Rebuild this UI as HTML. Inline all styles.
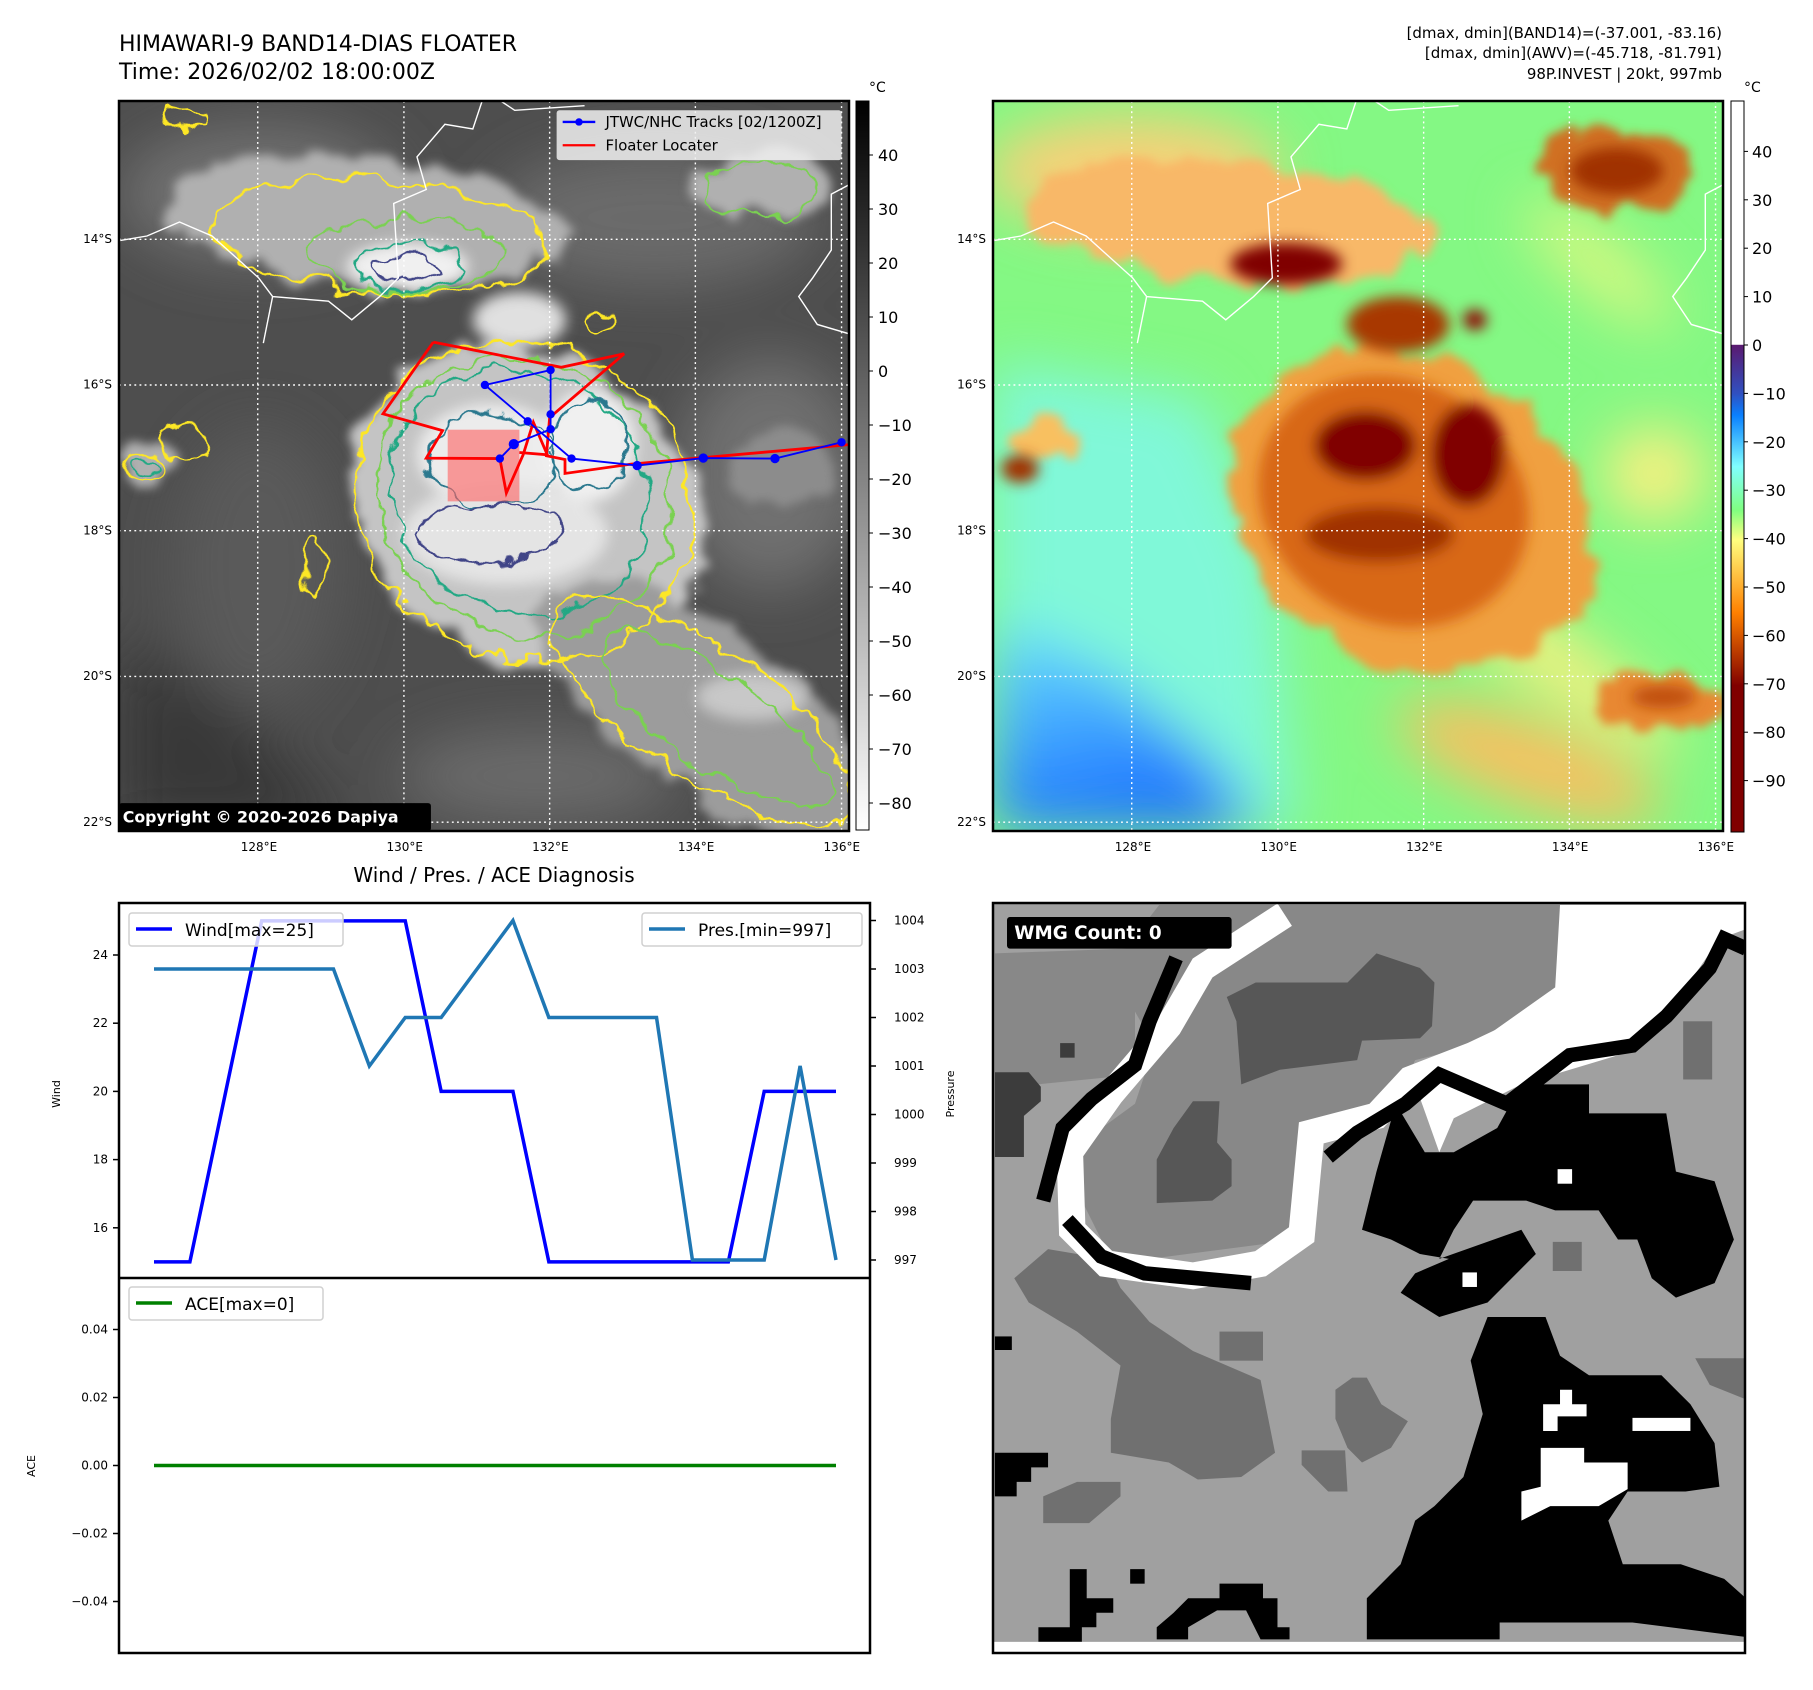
<!DOCTYPE html>
<html><head><meta charset="utf-8"><style>
html,body{margin:0;padding:0;background:#fff}
svg{display:block;font-family:"DejaVu Sans","Liberation Sans",sans-serif}
</style></head><body>
<svg id="root" width="1813" height="1690" viewBox="0 0 1813 1690" xmlns="http://www.w3.org/2000/svg">
<defs>
<filter id="b30" x="-50%" y="-50%" width="200%" height="200%"><feGaussianBlur stdDeviation="30"/></filter>
<filter id="b15" x="-50%" y="-50%" width="200%" height="200%"><feGaussianBlur stdDeviation="15"/></filter>
<filter id="b60" x="-50%" y="-50%" width="200%" height="200%"><feGaussianBlur stdDeviation="60"/></filter>
<filter id="wob" x="-20%" y="-20%" width="140%" height="140%"><feTurbulence type="fractalNoise" baseFrequency="0.015" numOctaves="3" seed="4" result="n"/><feDisplacementMap in="SourceGraphic" in2="n" scale="60" xChannelSelector="R" yChannelSelector="G"/></filter>
<filter id="wobb" x="-20%" y="-20%" width="140%" height="140%"><feTurbulence type="fractalNoise" baseFrequency="0.012" numOctaves="3" seed="7" result="n"/><feDisplacementMap in="SourceGraphic" in2="n" scale="90" xChannelSelector="R" yChannelSelector="G" result="d"/><feGaussianBlur in="d" stdDeviation="10"/></filter>
<clipPath id="mc"><rect x="0" y="0" width="1568" height="1568"/></clipPath>
<linearGradient id="cbgray" x1="0" y1="0" x2="0" y2="1"><stop offset="0" stop-color="#000"/><stop offset="1" stop-color="#fff"/></linearGradient>
<linearGradient id="cbjet" x1="0" y1="0" x2="0" y2="1">
<stop offset="0" stop-color="#fff"/><stop offset="0.333" stop-color="#fff"/>
<stop offset="0.334" stop-color="#5a1a70"/><stop offset="0.40" stop-color="#3050c0"/>
<stop offset="0.43" stop-color="#0a80ff"/><stop offset="0.50" stop-color="#80ffff"/>
<stop offset="0.56" stop-color="#80ff80"/><stop offset="0.60" stop-color="#ffff80"/>
<stop offset="0.70" stop-color="#ff8000"/><stop offset="0.80" stop-color="#800000"/>
<stop offset="1" stop-color="#800000"/></linearGradient>
<linearGradient id="bluegr" x1="0" y1="0" x2="0.3" y2="1"><stop offset="0" stop-color="#70e8ff"/><stop offset="1" stop-color="#1a70ff"/></linearGradient>
</defs>

<!-- Titles -->
<text x="119" y="51" font-size="22" fill="#000">HIMAWARI-9 BAND14-DIAS FLOATER</text>
<text x="119" y="79" font-size="22" fill="#000">Time: 2026/02/02 18:00:00Z</text>
<g font-size="15" text-anchor="end" fill="#000">
<text x="1722" y="38">[dmax, dmin](BAND14)=(-37.001, -83.16)</text>
<text x="1722" y="58">[dmax, dmin](AWV)=(-45.718, -81.791)</text>
<text x="1722" y="79">98P.INVEST | 20kt, 997mb</text>
</g>

<!-- LEFT MAP -->
<g transform="translate(119,101) scale(0.46556)">
<g clip-path="url(#mc)">
<rect x="0" y="0" width="1568" height="1568" fill="#4e4e4e"/>
<g filter="url(#b60)">
<ellipse cx="300" cy="200" rx="300" ry="150" fill="#707070"/>
<ellipse cx="1150" cy="250" rx="350" ry="150" fill="#6a6a6a"/>
<ellipse cx="1400" cy="800" rx="200" ry="250" fill="#707070"/>
<ellipse cx="300" cy="1000" rx="180" ry="300" fill="#5a5a5a"/>
<ellipse cx="900" cy="1450" rx="300" ry="100" fill="#6a6a6a"/>
<polygon points="0,1150 250,1300 500,1568 0,1568" fill="#383838"/>
</g>
<g filter="url(#wobb)">
<ellipse cx="520" cy="260" rx="430" ry="140" fill="#b0b0b0" transform="rotate(5 520 260)"/>
<ellipse cx="1380" cy="180" rx="150" ry="70" fill="#b0b0b0"/>
<ellipse cx="880" cy="870" rx="400" ry="330" fill="#c4c4c4" transform="rotate(30 880 870)"/>
<ellipse cx="1250" cy="1300" rx="420" ry="170" fill="#9c9c9c" transform="rotate(35 1250 1300)"/>
<ellipse cx="1420" cy="800" rx="110" ry="90" fill="#8c8c8c"/>
<ellipse cx="60" cy="780" rx="60" ry="50" fill="#b0b0b0"/>
</g>
<g filter="url(#b15)">
<ellipse cx="620" cy="355" rx="130" ry="50" fill="#f0f0f0"/>
<ellipse cx="860" cy="470" rx="100" ry="60" fill="#e0e0e0"/>
<ellipse cx="800" cy="760" rx="160" ry="110" fill="#ececec"/>
<ellipse cx="1010" cy="740" rx="100" ry="120" fill="#f0f0f0"/>
<ellipse cx="830" cy="930" rx="220" ry="110" fill="#e4e4e4"/>
<ellipse cx="1360" cy="1280" rx="120" ry="50" fill="#c8c8c8"/>
</g>
<g fill="none" stroke-width="5" filter="url(#wob)">
<ellipse cx="870" cy="860" rx="370" ry="335" stroke="#fde725" transform="rotate(30 870 860)"/>
<ellipse cx="870" cy="850" rx="325" ry="295" stroke="#7ad151" transform="rotate(30 870 850)"/>
<ellipse cx="860" cy="840" rx="285" ry="255" stroke="#22a884" transform="rotate(30 860 840)"/>
<ellipse cx="800" cy="770" rx="140" ry="100" stroke="#2a788e"/>
<ellipse cx="1010" cy="740" rx="80" ry="100" stroke="#2a788e"/>
<ellipse cx="800" cy="930" rx="150" ry="60" stroke="#414487"/>
<ellipse cx="560" cy="290" rx="360" ry="120" stroke="#fde725" transform="rotate(5 560 290)"/>
<ellipse cx="620" cy="330" rx="210" ry="80" stroke="#7ad151"/>
<ellipse cx="620" cy="355" rx="120" ry="50" stroke="#22a884"/>
<ellipse cx="610" cy="360" rx="70" ry="25" stroke="#414487"/>
<ellipse cx="1250" cy="1310" rx="380" ry="140" stroke="#fde725" transform="rotate(35 1250 1310)"/>
<ellipse cx="1280" cy="1330" rx="300" ry="100" stroke="#7ad151" transform="rotate(35 1280 1330)"/>
<ellipse cx="1380" cy="190" rx="120" ry="60" stroke="#7ad151"/>
<ellipse cx="55" cy="785" rx="45" ry="35" stroke="#fde725"/>
<ellipse cx="55" cy="785" rx="30" ry="22" stroke="#22a884"/>
<ellipse cx="140" cy="730" rx="45" ry="35" stroke="#fde725"/>
<ellipse cx="1035" cy="470" rx="30" ry="22" stroke="#fde725"/>
<ellipse cx="140" cy="40" rx="50" ry="20" stroke="#fde725"/>
<ellipse cx="420" cy="1000" rx="20" ry="60" stroke="#fde725"/>
</g>
<g fill="none" stroke="#fff" stroke-width="3">
<polyline points="0,300 60,290 130,260 200,290 300,380 330,420 450,430 500,470 560,420 600,380 590,220 660,190 640,120 700,50 760,60 780,0"/>
<polyline points="820,0 850,20 1000,10"/>
<polyline points="1568,180 1530,200 1530,320 1490,380 1460,420 1500,480 1568,500"/>
<polyline points="330,420 310,520"/>
</g>
<g stroke="#fff" stroke-width="3" stroke-dasharray="4,7">
<line x1="298" y1="0" x2="298" y2="1568"/><line x1="612" y1="0" x2="612" y2="1568"/><line x1="925" y1="0" x2="925" y2="1568"/><line x1="1238" y1="0" x2="1238" y2="1568"/><line x1="1552" y1="0" x2="1552" y2="1568"/>
<line y1="297" x1="0" y2="297" x2="1568"/><line y1="610" x1="0" y2="610" x2="1568"/><line y1="923" x1="0" y2="923" x2="1568"/><line y1="1236" x1="0" y2="1236" x2="1568"/><line y1="1549" x1="0" y2="1549" x2="1568"/>
</g>
<rect x="706" y="706" width="154" height="154" fill="#ff6060" opacity="0.6"/>
<polyline points="675,518 950,572 1085,543 925,680 918,762 958,770 958,800 1100,780 1568,738" fill="none" stroke="#ff0000" stroke-width="6"/>
<polyline points="675,518 567,672 695,708 660,767 818,768 832,842 868,760 890,690 920,760 860,755" fill="none" stroke="#ff0000" stroke-width="6"/>
<g stroke="#0000ff" stroke-width="4" fill="#0000ff">
<polyline fill="none" points="786,610 878,688 972,768 1113,783 1255,767 1409,768 1552,733"/>
<polyline fill="none" points="786,610 927,578 927,673 927,705 848,737 818,768"/>
<circle cx="786" cy="610" r="7"/><circle cx="927" cy="578" r="7"/><circle cx="927" cy="673" r="7"/><circle cx="927" cy="705" r="7"/><circle cx="878" cy="688" r="7"/><circle cx="848" cy="737" r="9"/><circle cx="818" cy="768" r="7"/><circle cx="972" cy="768" r="7"/><circle cx="1113" cy="783" r="8"/><circle cx="1255" cy="767" r="8"/><circle cx="1409" cy="768" r="8"/><circle cx="1552" cy="733" r="7"/>
</g>
<g>
<rect x="940" y="20" width="612" height="107" fill="#f0f0f0" opacity="0.85" rx="6"/>
<line x1="953" y1="45" x2="1023" y2="45" stroke="#0000ff" stroke-width="5"/><circle cx="988" cy="45" r="8" fill="#0000ff"/>
<text x="1045" y="56" font-size="32" fill="#000">JTWC/NHC Tracks [02/1200Z]</text>
<line x1="953" y1="95" x2="1023" y2="95" stroke="#ff0000" stroke-width="5"/>
<text x="1045" y="106" font-size="32" fill="#000">Floater Locater</text>
</g>
<rect x="0" y="1508" width="670" height="60" fill="#000" rx="6"/>
<text x="8" y="1550" font-size="34" font-weight="bold" fill="#fff">Copyright © 2020-2026 Dapiya</text>
</g>
</g>
<rect x="119" y="101" width="730" height="730" fill="none" stroke="#000" stroke-width="2.5"/>

<!-- RIGHT MAP -->
<g transform="translate(993,101) scale(0.46556)">
<g clip-path="url(#mc)">
<rect x="0" y="0" width="1568" height="1568" fill="#84f884"/>
<g filter="url(#b60)">
<polygon points="0,560 450,640 600,1000 650,1568 0,1568" fill="#80f8d8"/>
<polygon points="0,1100 250,1230 450,1400 580,1568 0,1568" fill="url(#bluegr)"/>
<ellipse cx="300" cy="150" rx="320" ry="120" fill="#f8d078"/>
<ellipse cx="1150" cy="1420" rx="300" ry="90" fill="#f8c060" transform="rotate(20 1150 1420)"/>
<ellipse cx="1420" cy="800" rx="110" ry="100" fill="#f8f080"/>
<ellipse cx="1200" cy="1200" rx="330" ry="70" fill="#f0f080" transform="rotate(35 1200 1200)"/>
<ellipse cx="1300" cy="350" rx="200" ry="60" fill="#d8f880" transform="rotate(40 1300 350)"/>
</g>
<g filter="url(#wobb)">
<ellipse cx="500" cy="260" rx="440" ry="130" fill="#f8b868" transform="rotate(5 500 260)"/>
<ellipse cx="900" cy="880" rx="410" ry="330" fill="#f0a040" transform="rotate(30 900 880)"/>
<ellipse cx="1340" cy="150" rx="160" ry="90" fill="#d07020"/>
<ellipse cx="1430" cy="1290" rx="150" ry="60" fill="#e88830"/>
<ellipse cx="110" cy="730" rx="70" ry="50" fill="#f8c060"/>
</g>
<g filter="url(#b15)">
<ellipse cx="860" cy="860" rx="300" ry="260" fill="#d86818" transform="rotate(30 860 860)"/>
<ellipse cx="870" cy="480" rx="110" ry="60" fill="#a83800"/>
<ellipse cx="630" cy="350" rx="120" ry="45" fill="#800000"/>
<ellipse cx="800" cy="740" rx="110" ry="75" fill="#800000"/>
<ellipse cx="1020" cy="760" rx="80" ry="110" fill="#800000"/>
<ellipse cx="830" cy="930" rx="160" ry="60" fill="#a03000"/>
<ellipse cx="1340" cy="150" rx="100" ry="50" fill="#a03000"/>
<ellipse cx="58" cy="790" rx="40" ry="30" fill="#a03000"/>
<ellipse cx="1035" cy="470" rx="25" ry="22" fill="#900000"/>
<ellipse cx="1440" cy="1280" rx="70" ry="25" fill="#c05010"/>
</g>
<g fill="none" stroke="#fff" stroke-width="3">
<polyline points="0,300 60,290 130,260 200,290 300,380 330,420 450,430 500,470 560,420 600,380 590,220 660,190 640,120 700,50 760,60 780,0"/>
<polyline points="820,0 850,20 1000,10"/>
<polyline points="1568,180 1530,200 1530,320 1490,380 1460,420 1500,480 1568,500"/>
<polyline points="330,420 310,520"/>
</g>
<g stroke="#fff" stroke-width="3" stroke-dasharray="4,7">
<line x1="298" y1="0" x2="298" y2="1568"/><line x1="612" y1="0" x2="612" y2="1568"/><line x1="925" y1="0" x2="925" y2="1568"/><line x1="1238" y1="0" x2="1238" y2="1568"/><line x1="1552" y1="0" x2="1552" y2="1568"/>
<line y1="297" x1="0" y2="297" x2="1568"/><line y1="610" x1="0" y2="610" x2="1568"/><line y1="923" x1="0" y2="923" x2="1568"/><line y1="1236" x1="0" y2="1236" x2="1568"/><line y1="1549" x1="0" y2="1549" x2="1568"/>
</g>
</g>
</g>
<rect x="993" y="101" width="730" height="730" fill="none" stroke="#000" stroke-width="2.5"/>

<!-- map tick labels -->
<g font-size="12" fill="#000" id="mapticks"></g>

<!-- Colorbars -->
<rect x="856" y="101" width="13" height="729" fill="url(#cbgray)" stroke="#000" stroke-width="1"/>
<rect x="1731" y="101" width="13" height="731" fill="url(#cbjet)" stroke="#000" stroke-width="1"/>
<text x="869" y="92" font-size="14">°C</text>
<text x="1744" y="92" font-size="14">°C</text>
<g id="cbticks" font-size="16" fill="#000"></g>

<!-- Diagnosis chart -->
<text x="494" y="882" font-size="20" text-anchor="middle">Wind / Pres. / ACE Diagnosis</text>
<g id="chart"></g>
<rect x="119" y="903" width="751" height="750" fill="none" stroke="#000" stroke-width="2.5"/>
<line x1="119" y1="1278" x2="870" y2="1278" stroke="#000" stroke-width="2.5"/>

<!-- WMG panel -->
<g>
<svg x="993" y="903" width="752" height="750" viewBox="6 6 1557 1547" preserveAspectRatio="none">
<rect x="0" y="0" width="1568" height="1568" fill="#a0a0a0"/>
<polygon fill="#888" points="10,110 280,100 350,10 1200,10 1195,220 1000,300 880,330 840,420 650,480 640,700 330,740 240,720 190,620 190,500 300,420 340,300 300,230 10,230"/>
<polygon fill="#888" points="10,170 300,170 300,360 100,380 10,380"/>
<polygon fill="#575757" points="490,200 550,170 740,170 800,110 890,140 920,170 915,260 890,285 770,290 760,330 600,350 520,380 510,250"/>
<polygon fill="#575757" points="345,535 380,470 420,415 475,415 470,500 500,535 500,590 460,620 345,625"/>
<polygon fill="#3c3c3c" points="10,355 80,355 105,385 105,415 70,445 70,530 10,530"/>
<rect x="145" y="295" width="30" height="30" fill="#3c3c3c"/>
<polygon fill="#707070" points="50,780 120,720 240,740 270,800 330,870 420,930 560,990 590,1140 520,1190 430,1195 370,1160 250,1140 250,1070 270,960 180,890 80,830"/>
<polygon fill="#707070" points="110,1230 180,1200 270,1200 270,1230 205,1285 110,1285"/>
<polygon fill="#707070" points="715,1010 750,985 780,985 810,1040 865,1075 830,1130 770,1160 740,1130 715,1070"/>
<polygon fill="#707070" points="645,1135 735,1135 740,1220 700,1220 645,1165"/>
<polygon fill="#707070" points="1460,945 1565,945 1565,1030 1490,1000"/>
<rect x="1165" y="705" width="60" height="60" fill="#707070"/>
<rect x="475" y="890" width="90" height="60" fill="#707070"/>
<rect x="1435" y="250" width="60" height="120" fill="#707070"/>
<polyline fill="none" stroke="#fff" stroke-width="55" points="610,30 440,140 370,260 250,400 165,520 170,680 240,750 420,775 560,750 645,690 665,480 800,445 870,370 1000,320 1180,235 1290,190 1520,50"/>
<polygon fill="#fff" points="1180,10 1565,10 1565,60 1510,80 1420,210 1300,320 1100,380 960,450 930,520 880,380 1000,300 1170,180"/>
<polyline fill="none" stroke="#000" stroke-width="30" points="385,120 330,250 300,340 210,410 150,470 110,620"/>
<polyline fill="none" stroke="#000" stroke-width="30" points="160,660 230,735 320,770 540,790"/>
<polyline fill="none" stroke="#000" stroke-width="30" points="700,530 760,480 860,420 930,360 1070,420 1200,320 1330,300 1400,240 1490,140 1520,80 1565,100"/>
<polygon fill="#000" points="800,560 840,420 900,520 960,520 1050,470 1100,380 1240,380 1240,440 1400,440 1420,560 1500,580 1540,700 1500,790 1420,820 1370,780 1340,700 1300,700 1260,640 1170,640 1110,620 1000,620 960,680 930,740 1100,680 1130,730 1030,830 930,860 850,810 880,770 950,740 890,730 830,700 770,680"/>
<polygon fill="#000" points="1030,860 1150,860 1180,940 1240,980 1390,980 1450,1040 1500,1120 1510,1210 1440,1220 1320,1220 1280,1280 1310,1370 1430,1370 1520,1400 1565,1440 1565,1520 1330,1490 1055,1490 1055,1525 780,1525 780,1440 820,1400 850,1370 880,1280 920,1250 980,1190 1020,1060 995,950"/>
<polygon fill="#fff" points="1140,1130 1230,1130 1230,1160 1320,1160 1320,1215 1260,1250 1160,1250 1100,1280 1100,1220 1140,1210"/>
<rect x="1330" y="1068" width="120" height="27" fill="#fff"/>
<polygon fill="#fff" points="1145,1040 1180,1040 1180,1010 1205,1010 1205,1040 1235,1040 1235,1065 1175,1065 1175,1095 1145,1095"/>
<rect x="1175" y="555" width="30" height="30" fill="#fff"/>
<rect x="978" y="768" width="30" height="30" fill="#fff"/>
<polygon fill="#000" points="10,1140 120,1140 120,1170 85,1170 85,1200 55,1200 55,1230 10,1230"/>
<polygon fill="#000" points="165,1380 200,1380 200,1440 255,1440 255,1470 220,1470 220,1500 190,1500 190,1530 100,1530 100,1500 165,1500"/>
<polygon fill="#000" points="345,1500 380,1470 410,1440 475,1440 475,1410 565,1410 565,1440 595,1440 595,1500 620,1500 620,1525 560,1525 530,1465 470,1465 410,1500 410,1525 345,1525"/>
<rect x="290" y="1380" width="30" height="30" fill="#000"/>
<rect x="10" y="900" width="35" height="28" fill="#000"/>
<rect x="0" y="1530" width="1568" height="40" fill="#fff"/>
<rect x="35" y="35" width="465" height="65" rx="6" fill="#000"/>
<text x="50" y="80" font-size="38" font-weight="bold" fill="#fff">WMG Count: 0</text>
</svg>
<rect x="993" y="903" width="752" height="750" fill="none" stroke="#000" stroke-width="2.5"/>
</g>
</svg>
<script>
// ---- chart data ----
const timeIndex = [0,1,2,3,4,5,6,7,8,9,10,11,12,13,14,15,16,17,18,19];
const windValues = [15,15,20,25,25,25,25,25,20,20,20,15,15,15,15,15,15,20,20,20];
const presValues = [1003,1003,1003,1003,1003,1003,1001,1002,1002,1003,1004,1002,1002,1002,1002,997,997,997,1001,997];
const aceValues = [0,0,0,0,0,0,0,0,0,0,0,0,0,0,0,0,0,0,0,0];
const windTicks = [16,18,20,22,24];
const presTicks = [997,998,999,1000,1001,1002,1003,1004];
const aceTicks = [-0.04,-0.02,0.00,0.02,0.04];
const cbGrayTicks = [40,30,20,10,0,-10,-20,-30,-40,-50,-60,-70,-80];
const cbJetTicks = [40,30,20,10,0,-10,-20,-30,-40,-50,-60,-70,-80,-90];
const lonTicks = [128,130,132,134,136];
const latTicks = [14,16,18,20,22];

const NS = 'http://www.w3.org/2000/svg';
function mk(tag, attrs, parent){const e=document.createElementNS(NS,tag);for(const k in attrs)e.setAttribute(k,attrs[k]);parent.appendChild(e);return e;}
const xS = i => 154 + (836-154) * (i - timeIndex[0]) / (timeIndex[timeIndex.length-1]-timeIndex[0]);
const yWind = v => 955 + (24 - v) * 34.1;
const yPres = v => 1260 - (v - 997) * 48.5;
const yAce = v => 1465.5 - v * 3400;
const chart = document.getElementById('chart');

function fmtNeg(s){return s.replace('-', '\u2212');}
windTicks.forEach(t=>{
  const y=yWind(t);
  mk('line',{x1:113,y1:y,x2:119,y2:y,stroke:'#000','stroke-width':1.5},chart);
  const tx=mk('text',{x:108,y:y+4,'font-size':12,'text-anchor':'end'},chart);tx.textContent=t;
  
  
});
presTicks.forEach(t=>{
  const y=yPres(t);
  mk('line',{x1:870,y1:y,x2:876,y2:y,stroke:'#000','stroke-width':1.5},chart);
  const tx=mk('text',{x:894,y:y+4,'font-size':12},chart);tx.textContent=t;
  
  
});
aceTicks.forEach(t=>{
  const y=yAce(t);
  mk('line',{x1:113,y1:y,x2:119,y2:y,stroke:'#000','stroke-width':1.5},chart);
  const tx=mk('text',{x:108,y:y+4,'font-size':12,'text-anchor':'end'},chart);tx.textContent=fmtNeg(t.toFixed(2));
  
  
});
let l=mk('text',{x:0,y:0,'font-size':11,transform:'translate(60,1094) rotate(-90)','text-anchor':'middle'},chart);l.textContent='Wind';


l=mk('text',{x:0,y:0,'font-size':11,transform:'translate(954,1094) rotate(-90)','text-anchor':'middle'},chart);l.textContent='Pressure';


l=mk('text',{x:0,y:0,'font-size':11,transform:'translate(35,1466) rotate(-90)','text-anchor':'middle'},chart);l.textContent='ACE';



let p=mk('polyline',{points:windValues.map((v,i)=>xS(timeIndex[i])+','+yWind(v)).join(' '),fill:'none',stroke:'#0000ff','stroke-width':3.5},chart);


p=mk('polyline',{points:presValues.map((v,i)=>xS(timeIndex[i])+','+yPres(v)).join(' '),fill:'none',stroke:'#1f77b4','stroke-width':3.5},chart);


p=mk('polyline',{points:aceValues.map((v,i)=>xS(timeIndex[i])+','+yAce(v)).join(' '),fill:'none',stroke:'#008000','stroke-width':3.5},chart);



function legend(x,y,w,color,label,name){
  const g=mk('g',{},chart);
  
  
  mk('rect',{x:x,y:y,width:w,height:33,rx:3,fill:'#fff','fill-opacity':0.8,stroke:'#d0d0d0','stroke-width':1.5},g);
  mk('line',{x1:x+7,y1:y+16,x2:x+43,y2:y+16,stroke:color,'stroke-width':3.5},g);
  const t=mk('text',{x:x+56,y:y+23,'font-size':17},g);t.textContent=label;
}
legend(129,913,214,'#0000ff','Wind[max=25]','wind-legend');
legend(642,913,220,'#1f77b4','Pres.[min=997]','pressure-legend');
legend(129,1287,194,'#008000','ACE[max=0]','ace-legend');

const mt=document.getElementById('mapticks');
[119,993].forEach((ox,mi)=>{
  lonTicks.forEach((lon,i)=>{
    const t=mk('text',{x:ox+140+i*145.7,y:851,'font-size':12,'text-anchor':'middle'},mt);t.textContent=lon+'°E';
    
    
  });
  latTicks.forEach((lat,i)=>{
    const t=mk('text',{x:ox-7,y:243+i*145.7,'font-size':12,'text-anchor':'end'},mt);t.textContent=lat+'°S';
    
    
  });
});
const cb=document.getElementById('cbticks');
cbGrayTicks.forEach(v=>{
  const y=155+(40-v)*5.4;
  mk('line',{x1:869,y1:y,x2:873,y2:y,stroke:'#000'},cb);
  const t=mk('text',{x:878,y:y+6,'font-size':16},cb);t.textContent=fmtNeg(String(v));
  
  
});
cbJetTicks.forEach(v=>{
  const y=345-v*4.84;
  mk('line',{x1:1744,y1:y,x2:1748,y2:y,stroke:'#000'},cb);
  const t=mk('text',{x:1752,y:y+6,'font-size':16},cb);t.textContent=fmtNeg(String(v));
  
  
});
</script>
</body></html>
